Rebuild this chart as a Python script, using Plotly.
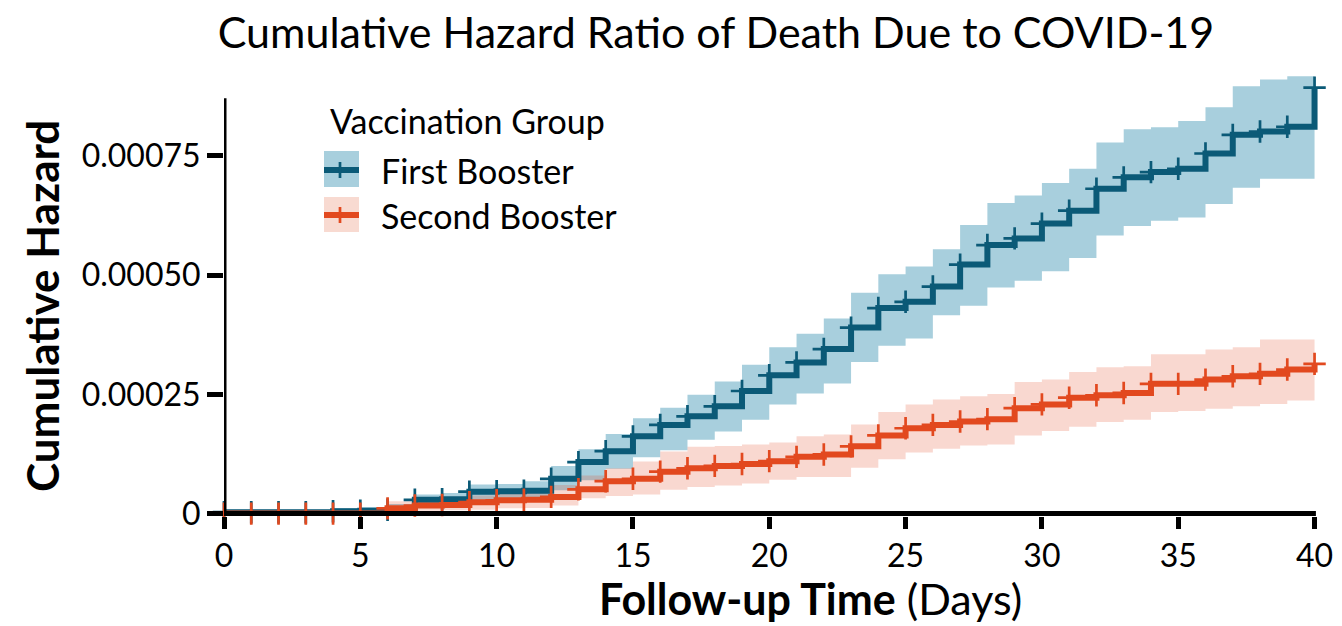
import plotly.graph_objects as go

# ---------------- data ----------------
days = list(range(0, 41))

first_hazard = [0.000003, 0.000003, 0.000003, 0.000003, 0.000005, 0.000006, 0.000008, 0.000029,
                0.000030, 0.000046, 0.000047, 0.000048, 0.000073, 0.000108, 0.000131, 0.000162,
                0.000186, 0.000204, 0.000225, 0.000257, 0.000290, 0.000317, 0.000345, 0.000390,
                0.000431, 0.000444, 0.000476, 0.000522, 0.000563, 0.000577, 0.000608, 0.000635,
                0.000681, 0.000705, 0.000716, 0.000723, 0.000755, 0.000794, 0.000801, 0.000811,
                0.000893]
first_upper = [0.000008, 0.000008, 0.000008, 0.000008, 0.000012, 0.000014, 0.000020, 0.000040,
               0.000043, 0.000061, 0.000062, 0.000068, 0.000100, 0.000135, 0.000167, 0.000200,
               0.000222, 0.000249, 0.000277, 0.000312, 0.000349, 0.000377, 0.000409, 0.000463,
               0.000502, 0.000518, 0.000554, 0.000605, 0.000651, 0.000667, 0.000693, 0.000723,
               0.000778, 0.000806, 0.000810, 0.000823, 0.000852, 0.000896, 0.000910, 0.000917,
               0.000917]
first_lower = [0.0, 0.0, 0.0, 0.0, 0.0, 0.0, 0.000001, 0.000015,
               0.000016, 0.000028, 0.000029, 0.000030, 0.000049, 0.000070, 0.000094, 0.000118,
               0.000133, 0.000155, 0.000172, 0.000197, 0.000229, 0.000252, 0.000273, 0.000318,
               0.000352, 0.000367, 0.000416, 0.000436, 0.000474, 0.000488, 0.000508, 0.000536,
               0.000583, 0.000603, 0.000614, 0.000621, 0.000649, 0.000683, 0.000702, 0.000702,
               0.000702]

second_hazard = [0.0, 0.0, 0.0, 0.0, 0.0, 0.0, 0.000011, 0.000017,
                 0.000018, 0.000024, 0.000028, 0.000029, 0.000035, 0.000051, 0.000068, 0.000073,
                 0.000088, 0.000095, 0.000100, 0.000104, 0.000110, 0.000119, 0.000124, 0.000141,
                 0.000164, 0.000179, 0.000186, 0.000193, 0.000198, 0.000221, 0.000229, 0.000243,
                 0.000248, 0.000253, 0.000272, 0.000272, 0.000281, 0.000288, 0.000293, 0.000302,
                 0.000314]
second_upper = [0.000003, 0.000003, 0.000003, 0.000003, 0.000003, 0.000003, 0.000026, 0.000033,
                0.000035, 0.000038, 0.000046, 0.000049, 0.000060, 0.000080, 0.000095, 0.000109,
                0.000130, 0.000140, 0.000142, 0.000145, 0.000149, 0.000162, 0.000166, 0.000187,
                0.000213, 0.000229, 0.000239, 0.000246, 0.000251, 0.000276, 0.000281, 0.000297,
                0.000307, 0.000309, 0.000334, 0.000334, 0.000344, 0.000349, 0.000365, 0.000365,
                0.000365]
second_lower = [0.0, 0.0, 0.0, 0.0, 0.0, 0.0, 0.000003, 0.000006,
                0.000007, 0.000008, 0.000011, 0.000012, 0.000017, 0.000032, 0.000037, 0.000040,
                0.000050, 0.000056, 0.000059, 0.000063, 0.000071, 0.000077, 0.000077, 0.000096,
                0.000114, 0.000128, 0.000136, 0.000143, 0.000145, 0.000164, 0.000173, 0.000182,
                0.000192, 0.000197, 0.000213, 0.000215, 0.000220, 0.000225, 0.000230, 0.000237,
                0.000237]

group_names = ["First Booster", "Second Booster"]
x_tick_vals = [0, 5, 10, 15, 20, 25, 30, 35, 40]
y_tick_vals = [0, 0.00025, 0.0005, 0.00075]
y_tick_text = ["0", "0.00025", "0.00050", "0.00075"]

# ---------------- style ----------------
FONT = "Lato"
BLUE_LINE = "#0B5A77"
BLUE_FILL = "#A8CFDD"
ORANGE_LINE = "#E2491F"
ORANGE_FILL = "rgba(226,73,31,0.21)"
ORANGE_FILL_SOLID = "#F8DAD1"

FW, FH = 1342, 626
ML, MR, MT, MB = 224, 22, 70, 110
PW, PH = FW - ML - MR, FH - MT - MB
X_RANGE = [0, 40.2]
Y_RANGE = [-0.000005, 0.00093]


def pxx(px):
    return (px - ML) / PW


def pxy(py):
    return (FH - MB - py) / PH


fig = go.Figure()

# confidence bands
fig.add_trace(go.Scatter(x=days, y=first_lower, mode="lines", line=dict(width=0, shape="hv"),
                         showlegend=False, hoverinfo="skip"))
fig.add_trace(go.Scatter(x=days, y=first_upper, mode="lines", line=dict(width=0, shape="hv"),
                         fill="tonexty", fillcolor=BLUE_FILL, showlegend=False, hoverinfo="skip"))
fig.add_trace(go.Scatter(x=days, y=second_lower, mode="lines", line=dict(width=0, shape="hv"),
                         showlegend=False, hoverinfo="skip"))
fig.add_trace(go.Scatter(x=days, y=second_upper, mode="lines", line=dict(width=0, shape="hv"),
                         fill="tonexty", fillcolor=ORANGE_FILL, showlegend=False, hoverinfo="skip"))

# step lines with censor marks
for name, vals, col in [(group_names[0], first_hazard, BLUE_LINE),
                        (group_names[1], second_hazard, ORANGE_LINE)]:
    fig.add_trace(go.Scatter(
        x=days, y=vals, name=name, mode="lines+markers",
        line=dict(color=col, width=6, shape="hv"),
        marker=dict(symbol="cross-thin", size=16, line=dict(color=col, width=2.7)),
        cliponaxis=False, showlegend=False))

shapes = []
# axis lines
shapes.append(dict(type="line", xref="x", yref="y", x0=-0.1, x1=40.05, y0=0, y1=0,
                   line=dict(color="black", width=5)))
shapes.append(dict(type="line", xref="x", yref="y", x0=0, x1=0, y0=-0.000006, y1=0.000871,
                   line=dict(color="black", width=5)))

# custom legend
legend_items = [(group_names[0], BLUE_FILL, BLUE_LINE, 151, 187, 170),
                (group_names[1], ORANGE_FILL_SOLID, ORANGE_LINE, 197, 232, 215)]
annotations = []
for name, fcol, lcol, ytop, ybot, yc in legend_items:
    shapes.append(dict(type="rect", xref="paper", yref="paper", x0=pxx(324), x1=pxx(359),
                       y0=pxy(ybot), y1=pxy(ytop), fillcolor=fcol, line=dict(width=0)))
    shapes.append(dict(type="line", xref="paper", yref="paper", x0=pxx(324), x1=pxx(359),
                       y0=pxy(yc), y1=pxy(yc), line=dict(color=lcol, width=6)))
    shapes.append(dict(type="line", xref="paper", yref="paper", x0=pxx(340), x1=pxx(340),
                       y0=pxy(yc + 8), y1=pxy(yc - 8), line=dict(color=lcol, width=2.7)))
    annotations.append(dict(text=name, xref="paper", yref="paper", x=pxx(379), y=pxy(yc),
                            xanchor="left", yanchor="middle", showarrow=False,
                            font=dict(family=FONT, size=34, color="black")))

annotations.append(dict(text="Vaccination Group", xref="paper", yref="paper", x=pxx(328), y=pxy(120),
                        xanchor="left", yanchor="middle", showarrow=False,
                        font=dict(family=FONT, size=34, color="black")))
# axis titles
annotations.append(dict(text="<b>Cumulative Hazard</b>", xref="paper", yref="paper", x=pxx(42),
                        y=pxy(306), xanchor="center", yanchor="middle", textangle=-90,
                        showarrow=False, font=dict(family=FONT, size=44, color="black")))
annotations.append(dict(text="<b>Follow-up Time</b> (Days)", xref="paper", yref="paper", x=pxx(810),
                        y=pxy(598), xanchor="center", yanchor="middle",
                        showarrow=False, font=dict(family=FONT, size=43, color="black")))

fig.update_layout(
    width=FW, height=FH,
    margin=dict(l=ML, r=MR, t=MT, b=MB, autoexpand=False),
    paper_bgcolor="white", plot_bgcolor="white",
    title=dict(text="Cumulative Hazard Ratio of Death Due to COVID-19", xref="container",
               yref="container", x=716 / FW, y=1 - 33 / FH, xanchor="center", yanchor="middle",
               font=dict(family=FONT, size=43, color="black")),
    xaxis=dict(range=X_RANGE, tickvals=x_tick_vals, ticks="outside", ticklen=12, tickwidth=5,
               tickcolor="black", showgrid=False, zeroline=False, showline=False,
               tickfont=dict(family=FONT, size=32, color="black")),
    yaxis=dict(range=Y_RANGE, tickvals=y_tick_vals, ticktext=y_tick_text, ticks="outside",
               ticklen=16, tickwidth=5, tickcolor="black", showgrid=False, zeroline=False,
               showline=False, tickfont=dict(family=FONT, size=32, color="black")),
    shapes=shapes, annotations=annotations, showlegend=False,
)

fig.write_html("out.html", config={"displayModeBar": False},
               post_script="document.body.style.margin='0px';")
